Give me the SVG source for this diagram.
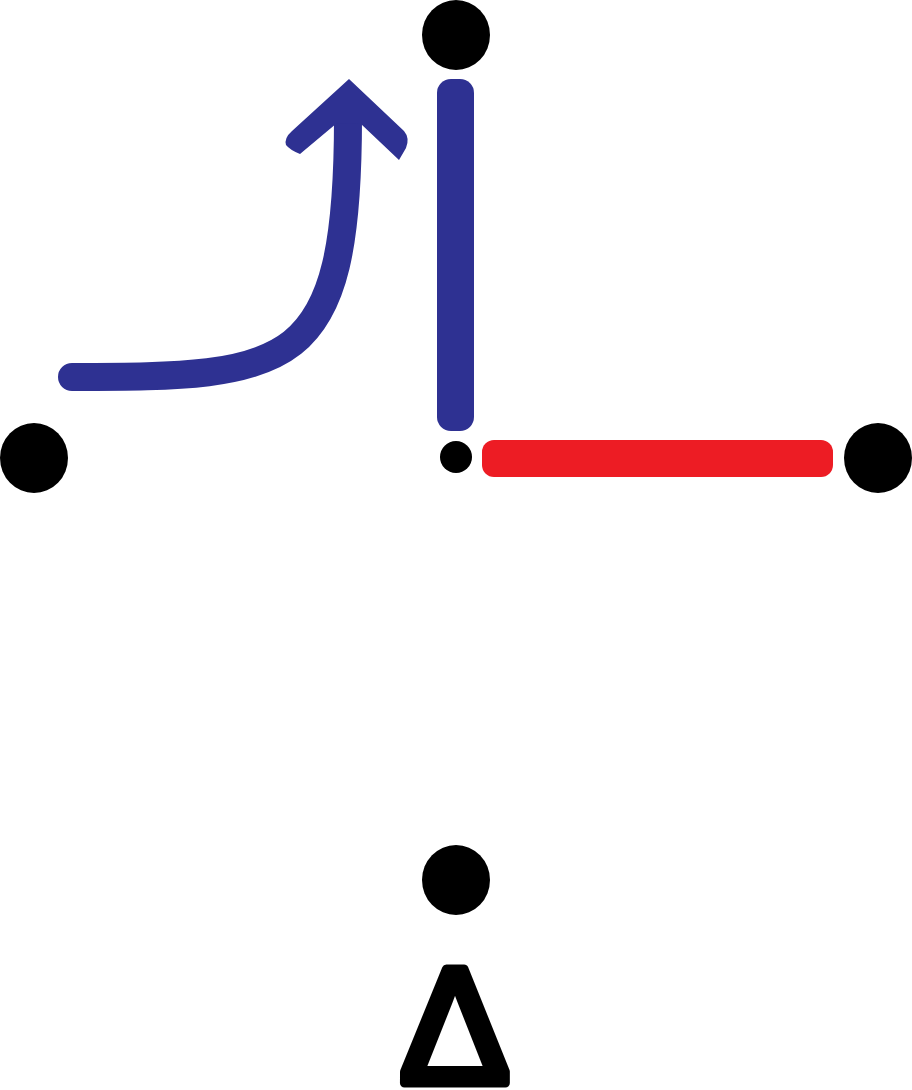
<svg xmlns="http://www.w3.org/2000/svg" width="912" height="1090" viewBox="0 0 912 1090">
<style>
.dot{fill:#000}
.blue{fill:#2E3192}
.red{fill:#ED1C24}
.lbl{font-family:"Liberation Sans",Arial,sans-serif;font-weight:normal;fill:#000;stroke:#000;stroke-width:9;stroke-linejoin:round}
</style>
<rect width="912" height="1090" fill="#fff"/>
<g id="node-top"><ellipse class="dot" cx="456" cy="35" rx="34" ry="35"/></g>
<g id="node-left"><ellipse class="dot" cx="34" cy="458" rx="34" ry="35"/></g>
<g id="node-right"><ellipse class="dot" cx="878" cy="458" rx="34" ry="35"/></g>
<g id="node-bottom"><ellipse class="dot" cx="456" cy="880" rx="34" ry="35"/></g>
<g id="node-center"><circle class="dot" cx="456" cy="457" r="16"/></g>
<g id="connectors">
<rect class="blue" x="437" y="79" width="37" height="352" rx="14"/>
<rect class="red" x="482" y="440" width="351" height="37" rx="12"/>
<path d="M72,377 C292,377 348,372 348,118" fill="none" stroke="#2E3192" stroke-width="28" stroke-linecap="round"/>
<path class="blue" d="M349,79 L404,131 Q410,138 406,148 L399,160 L361,124 L337,123 L300,154 Q290,150 286,145 Q284,138 292,131 Z"/>
</g>
<g id="label-delta"><text class="lbl" x="455" y="1083" font-size="166" text-anchor="middle">Δ</text></g>
</svg>
